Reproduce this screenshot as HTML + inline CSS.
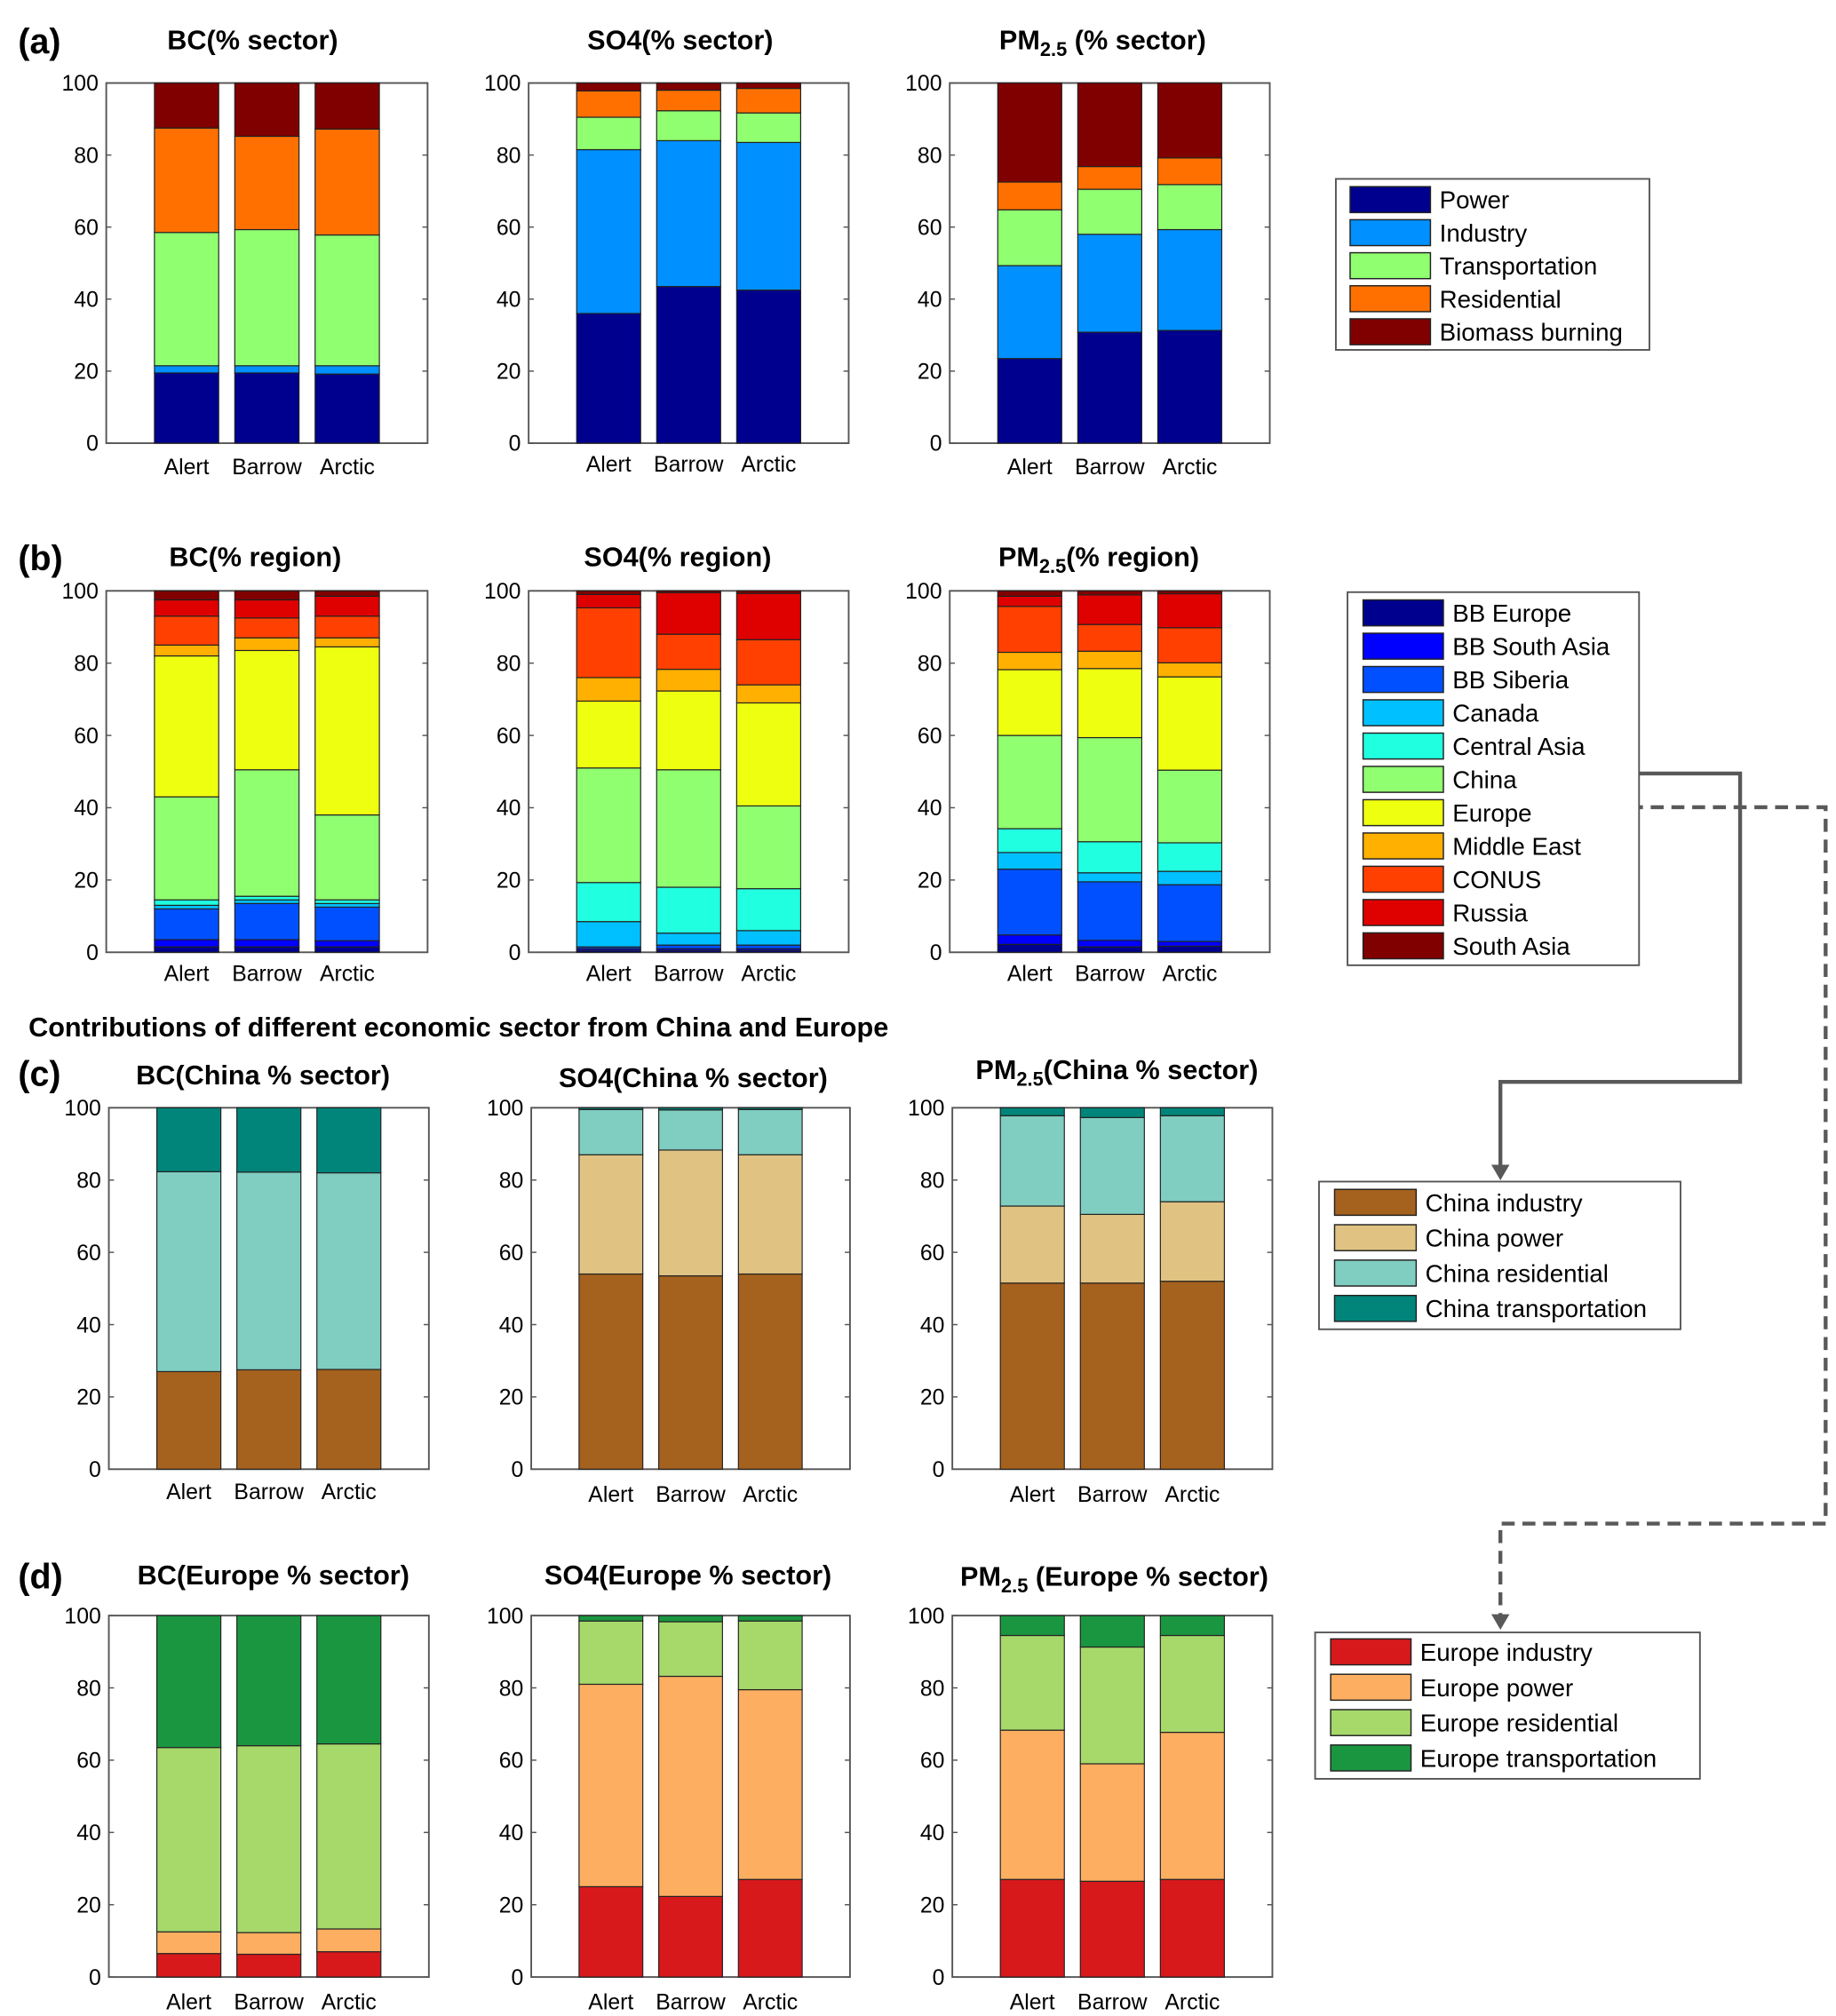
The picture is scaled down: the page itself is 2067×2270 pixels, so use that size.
<!DOCTYPE html>
<html><head><meta charset="utf-8">
<style>
html,body{margin:0;padding:0;background:#fff;}
svg{display:block;}
text{font-family:"Liberation Sans",sans-serif;}
</style></head>
<body>
<svg id="fig" width="2067" height="2270" viewBox="0 0 1417 1556" xmlns="http://www.w3.org/2000/svg">
<g id="static">
<text x="14" y="41" font-size="27" font-weight="bold">(a)</text>
<text x="14" y="440" font-size="27" font-weight="bold">(b)</text>
<text x="14" y="838" font-size="27" font-weight="bold">(c)</text>
<text x="14" y="1226" font-size="27" font-weight="bold">(d)</text>
<text x="22" y="800" font-size="21" font-weight="bold">Contributions of different economic sector from China and Europe</text>
<!-- connectors -->
<polyline points="1212,597 1343,597 1343,835 1158,835 1158,900" fill="none" stroke="#595959" stroke-width="3"/>
<polygon points="1151,899 1165,899 1158,911" fill="#595959"/>
<polyline points="1210,623 1409,623 1409,1176 1158,1176 1158,1247" fill="none" stroke="#595959" stroke-width="3" stroke-dasharray="10,6"/>
<polygon points="1151,1246 1165,1246 1158,1258" fill="#595959"/>
</g>
</svg>
<script>
// ---------- data ----------
const stations = ["Alert", "Barrow", "Arctic"];
const yTicks = [0, 20, 40, 60, 80, 100];

const sectorNames = ["Power", "Industry", "Transportation", "Residential", "Biomass burning"];
const sectorColors = ["#00008f", "#0090ff", "#90ff70", "#ff7000", "#800000"];
// cumulative top of each layer per station [Alert, Barrow, Arctic]
const bcSectorTops = [[19.5,19.5,19.2],[21.5,21.5,21.5],[58.5,59.3,57.8],[87.5,85.2,87.2],[100,100,100]];
const so4SectorTops = [[36,43.5,42.5],[81.5,84,83.5],[90.5,92.3,91.7],[97.8,98,98.5],[100,100,100]];
const pmSectorTops = [[23.5,30.8,31.3],[49.3,58,59.3],[64.8,70.5,71.8],[72.5,76.8,79.2],[100,100,100]];

const regionNames = ["BB Europe","BB South Asia","BB Siberia","Canada","Central Asia","China","Europe","Middle East","CONUS","Russia","South Asia"];
const regionColors = ["#00008f","#0000ff","#0050ff","#00c0ff","#20ffe0","#90ff70","#efff10","#ffb000","#ff4000","#df0000","#800000"];
const bcRegionTops = [[1.5,1.5,1.5],[3.5,3.5,3.2],[12,13.5,12.5],[13,14.5,13.5],[14.5,15.5,14.5],[43,50.5,38],[82,83.5,84.5],[85,87,87],[93,92.5,93],[97.5,97.5,98.5],[100,100,100]];
const so4RegionTops = [[0.5,0.5,0.5],[1,1,1],[1.5,2,2],[8.5,5.3,6],[19.3,18,17.6],[51,50.5,40.5],[69.5,72.3,69],[76,78.3,74],[95.3,88,86.5],[99,99.5,99.3],[100,100,100]];
const pmRegionTops = [[2.2,1.5,1.7],[4.8,3.3,3],[23,19.5,18.7],[27.6,22,22.4],[34.2,30.6,30.3],[60,59.4,50.4],[78.2,78.5,76.2],[83,83.3,80.1],[95.7,90.7,89.8],[98.5,98.9,99.2],[100,100,100]];

const chinaNames = ["China industry","China power","China residential","China transportation"];
const chinaColors = ["#a5611e","#e0c382","#80cdc1","#01857a"];
const bcChinaTops = [[27,27.5,27.6],[27,27.5,27.6],[82.3,82.2,82],[100,100,100]];
const so4ChinaTops = [[54,53.5,54],[87,88.3,87],[99.5,99.4,99.5],[100,100,100]];
const pmChinaTops = [[51.5,51.5,52],[72.8,70.5,74],[97.8,97.3,97.8],[100,100,100]];

const europeNames = ["Europe industry","Europe power","Europe residential","Europe transportation"];
const europeColors = ["#d7191c","#fdae61","#a6d96a","#1a9641"];
const bcEuropeTops = [[6.5,6.3,7],[12.5,12.3,13.3],[63.5,64,64.5],[100,100,100]];
const so4EuropeTops = [[25,22.3,27],[81,83.2,79.5],[98.5,98.3,98.5],[100,100,100]];
const pmEuropeTops = [[27,26.5,27],[68.3,59,67.7],[94.5,91.3,94.5],[100,100,100]];

// ---------- drawing ----------
const NS = "http://www.w3.org/2000/svg";
const svg = document.getElementById("fig");
function mk(tag, attrs, parent) {
  const e = document.createElementNS(NS, tag);
  for (const k in attrs) e.setAttribute(k, attrs[k]);
  (parent || svg).appendChild(e);
  return e;
}

function drawPanel(id, x0, y0, w, h, tops, colors, names, title, titleX, titleY, labelY) {
  const g = mk("g", {});
  
  
  const xs = v => x0 + v * w / 4;
  const ys = v => y0 + h - v * h / 100;
  const bw = 0.8 * w / 4;
  // title
  const t = mk("text", {x: titleX, y: titleY, "font-size": 21, "font-weight": "bold", "text-anchor": "middle"}, g);
  
  
  if (title.sub) {
    t.appendChild(document.createTextNode(title.pre));
    const s = mk("tspan", {"font-size": 15, dy: 5}, t); s.textContent = title.sub;
    const r = mk("tspan", {dy: -5}, t); r.textContent = title.post;
  } else t.textContent = title.pre;
  // frame
  const fr = mk("rect", {x: x0, y: y0, width: w, height: h, fill: "#fff", stroke: "#555", "stroke-width": 1.3}, g);
  
  
  // bars
  stations.forEach((st, i) => {
    let prev = 0;
    tops.forEach((row, k) => {
      const top = row[i];
      const yTop = ys(top), yBot = ys(prev);
      if (top - prev > 0) {
        const r = mk("rect", {x: xs(i + 1) - bw / 2, y: yTop, width: bw, height: yBot - yTop, fill: colors[k], stroke: "#222", "stroke-width": 0.8}, g);
        
        
      }
      prev = Math.max(prev, top);
    });
    const lb = mk("text", {x: xs(i + 1), y: labelY, "font-size": 17, "text-anchor": "middle"}, g);
    
    
    lb.textContent = st;
  });
  // ticks
  yTicks.forEach(v => {
    const y = ys(v);
    mk("line", {x1: x0, x2: x0 + 4, y1: y, y2: y, stroke: "#555"}, g);
    mk("line", {x1: x0 + w - 4, x2: x0 + w, y1: y, y2: y, stroke: "#555"}, g);
    const tl = mk("text", {x: x0 - 6, y: y + 6, "font-size": 17, "text-anchor": "end"}, g);
    
    
    tl.textContent = v;
  });
}

function drawLegend(id, bx, by, bw, bh, entryY0, step, swX, swW, swH, fs, names, colors) {
  const g = mk("g", {});
  
  
  mk("rect", {x: bx, y: by, width: bw, height: bh, fill: "#fff", stroke: "#555", "stroke-width": 1.3}, g);
  names.forEach((n, k) => {
    const cy = entryY0 + k * step;
    const e = mk("g", {}, g);
    
    
    mk("rect", {x: swX, y: cy - swH / 2, width: swW, height: swH, fill: colors[k], stroke: "#222", "stroke-width": 1}, e);
    const t = mk("text", {x: swX + swW + 7, y: cy + fs * 0.36, "font-size": fs}, e);
    t.textContent = n;
  });
}

const T = (pre, sub, post) => ({pre, sub, post});
const W = 248, H = 278;
// row a
drawPanel("bc-sector", 82, 64, W, H, bcSectorTops, sectorColors, sectorNames, T("BC(% sector)"), 195, 38, 366);
drawPanel("so4-sector", 408, 64, 247, H, so4SectorTops, sectorColors, sectorNames, T("SO4(% sector)"), 525, 38, 364);
drawPanel("pm-sector", 733, 64, 247, H, pmSectorTops, sectorColors, sectorNames, T("PM", "2.5", " (% sector)"), 851, 38, 366);
// row b
drawPanel("bc-region", 82, 456, W, 279, bcRegionTops, regionColors, regionNames, T("BC(% region)"), 197, 437, 757);
drawPanel("so4-region", 408, 456, 247, 279, so4RegionTops, regionColors, regionNames, T("SO4(% region)"), 523, 437, 757);
drawPanel("pm-region", 733, 456, 247, 279, pmRegionTops, regionColors, regionNames, T("PM", "2.5", "(% region)"), 848, 437, 757);
// row c
drawPanel("bc-china", 84, 855, 247, 279, bcChinaTops, chinaColors, chinaNames, T("BC(China % sector)"), 203, 837, 1157);
drawPanel("so4-china", 410, 855, 246, 279, so4ChinaTops, chinaColors, chinaNames, T("SO4(China % sector)"), 535, 839, 1159);
drawPanel("pm-china", 735, 855, 247, 279, pmChinaTops, chinaColors, chinaNames, T("PM", "2.5", "(China % sector)"), 862, 833, 1159);
// row d
drawPanel("bc-europe", 84, 1247, 247, 279, bcEuropeTops, europeColors, europeNames, T("BC(Europe % sector)"), 211, 1223, 1551);
drawPanel("so4-europe", 410, 1247, 246, 279, so4EuropeTops, europeColors, europeNames, T("SO4(Europe % sector)"), 531, 1223, 1551);
drawPanel("pm-europe", 735, 1247, 247, 279, pmEuropeTops, europeColors, europeNames, T("PM", "2.5", " (Europe % sector)"), 860, 1224, 1551);
// legends
drawLegend("sector-legend", 1031, 138, 242, 132, 154, 25.5, 1042, 62, 20, 19, sectorNames, sectorColors);
drawLegend("region-legend", 1040, 457, 225, 288, 473, 25.7, 1052, 62, 20, 19, regionNames, regionColors);
drawLegend("china-legend", 1018, 912, 279, 114, 928, 27.3, 1030, 63, 20, 19, chinaNames, chinaColors);
drawLegend("europe-legend", 1015, 1260, 297, 113, 1275, 27.3, 1027, 62, 20, 19, europeNames, europeColors);
</script>
</body></html>
